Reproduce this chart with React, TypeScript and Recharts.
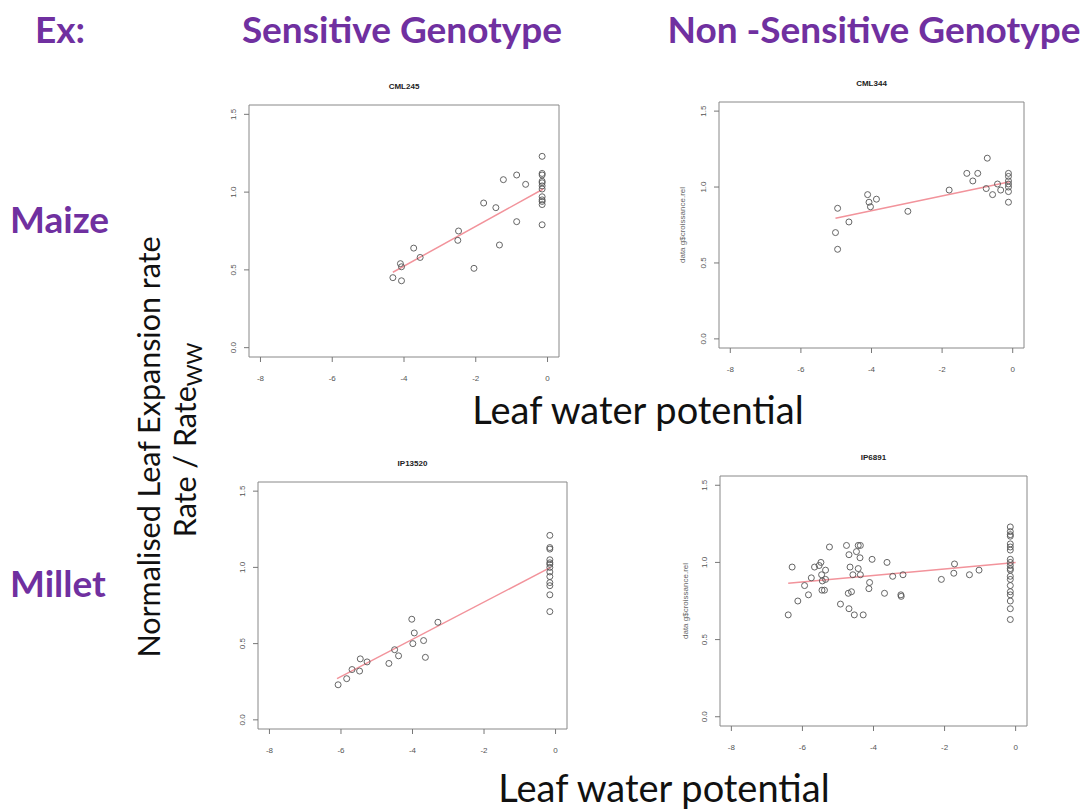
import React from 'react';
import { ScatterChart, Scatter, XAxis, YAxis, ReferenceArea } from 'recharts';

// leaf water potential (x) vs normalised expansion rate (y)
const cml245: [number, number][] = [
  [-4.31, 0.45], [-4.07, 0.43], [-4.1, 0.54], [-4.07, 0.52], [-3.73, 0.64], [-3.55, 0.58],
  [-2.48, 0.75], [-2.5, 0.69], [-2.05, 0.51], [-1.78, 0.93], [-1.44, 0.9], [-1.34, 0.66],
  [-1.23, 1.08], [-0.86, 1.11], [-0.86, 0.81], [-0.61, 1.05],
  [-0.15, 1.23], [-0.15, 1.12], [-0.15, 1.11], [-0.15, 1.07], [-0.15, 1.06], [-0.15, 1.04],
  [-0.15, 1.02], [-0.15, 0.97], [-0.15, 0.95], [-0.15, 0.94], [-0.15, 0.92], [-0.15, 0.79],
];
const cml245Fit: [number, number][] = [[-4.31, 0.485], [-0.12, 1.02]];

const cml344: [number, number][] = [
  [-4.96, 0.86], [-5.02, 0.7], [-4.96, 0.59], [-4.64, 0.77], [-4.11, 0.95], [-4.07, 0.9],
  [-4.03, 0.87], [-3.86, 0.92], [-2.97, 0.84], [-1.8, 0.98], [-1.3, 1.09], [-1.13, 1.04],
  [-0.99, 1.09], [-0.72, 1.19], [-0.75, 0.99], [-0.57, 0.95], [-0.43, 1.02], [-0.34, 0.98],
  [-0.12, 1.09], [-0.12, 1.07], [-0.12, 1.04], [-0.12, 1.02], [-0.12, 1.0], [-0.12, 0.97], [-0.12, 0.9],
];
const cml344Fit: [number, number][] = [[-5.02, 0.795], [-0.08, 1.035]];

const ip13520: [number, number][] = [
  [-6.08, 0.23], [-5.84, 0.27], [-5.69, 0.33], [-5.48, 0.32], [-5.46, 0.4], [-5.27, 0.38],
  [-4.66, 0.37], [-4.5, 0.46], [-4.39, 0.42], [-4.02, 0.66], [-3.99, 0.5], [-3.95, 0.57],
  [-3.69, 0.52], [-3.64, 0.41], [-3.29, 0.64],
  [-0.16, 1.21], [-0.16, 1.13], [-0.16, 1.12], [-0.16, 1.05], [-0.16, 1.03], [-0.16, 1.02],
  [-0.16, 1.0], [-0.16, 0.97], [-0.16, 0.94], [-0.16, 0.9], [-0.16, 0.88], [-0.16, 0.82], [-0.16, 0.71],
];
const ip13520Fit: [number, number][] = [[-6.11, 0.27], [-0.14, 1.0]];

const ip6891: [number, number][] = [
  [-6.4, 0.66], [-6.29, 0.97], [-6.13, 0.75], [-5.94, 0.85], [-5.83, 0.79], [-5.75, 0.9],
  [-5.66, 0.97], [-5.53, 0.98], [-5.48, 1.0], [-5.46, 0.92], [-5.44, 0.88], [-5.45, 0.82],
  [-5.38, 0.82], [-5.35, 0.95], [-5.35, 0.89], [-5.24, 1.1], [-4.93, 0.73], [-4.76, 1.11],
  [-4.71, 0.8], [-4.69, 1.05], [-4.69, 0.7], [-4.66, 0.97], [-4.62, 0.81], [-4.58, 0.92],
  [-4.54, 0.66], [-4.48, 1.07], [-4.43, 1.11], [-4.43, 0.96], [-4.37, 1.11], [-4.38, 1.03],
  [-4.37, 0.92], [-4.29, 0.66], [-4.13, 0.83], [-4.11, 0.87], [-4.04, 1.02], [-3.69, 0.8],
  [-3.62, 1.0], [-3.46, 0.91], [-3.23, 0.79], [-3.22, 0.78], [-3.17, 0.92], [-2.09, 0.89],
  [-1.74, 0.93], [-1.72, 0.99], [-1.3, 0.92], [-1.03, 0.95],
  [-0.15, 1.23], [-0.15, 1.2], [-0.15, 1.18], [-0.15, 1.17], [-0.15, 1.12], [-0.15, 1.1],
  [-0.15, 1.08], [-0.15, 1.02], [-0.15, 1.0], [-0.15, 0.98], [-0.15, 0.96], [-0.15, 0.95],
  [-0.15, 0.91], [-0.15, 0.89], [-0.15, 0.85], [-0.15, 0.81], [-0.15, 0.79], [-0.15, 0.75],
  [-0.15, 0.7], [-0.15, 0.63],
];
const ip6891Fit: [number, number][] = [[-6.4, 0.865], [0, 1.0]];

const xTicks = [-8, -6, -4, -2, 0];
const yTicks = [0, 0.5, 1, 1.5];

const PURPLE = '#7030a0';
const FIT = '#f2939b';
const YW = 40;
const XH = 30;

const toPts = (a: [number, number][]) => a.map(([x, y]) => ({ x, y }));

const Dot = (p: any) => (
  <circle cx={p.cx} cy={p.cy} r={3} fill="none" stroke="#555" strokeWidth={0.9} />
);

const YTick = ({ x, y, payload }: any) => (
  <text x={x} y={y} transform={`rotate(-90 ${x} ${y})`} textAnchor="middle"
    fontSize={8} fill="#555" fontFamily="Liberation Sans">
    {Number(payload.value).toFixed(1)}
  </text>
);

const Panel = ({ box, data, fit, title, ylabel }: any) => {
  return (
    <div style={{ position: 'absolute', left: box.x - YW, top: box.y - 2 }}>
      <ScatterChart width={box.w + YW + 2} height={box.h + XH + 2}
        margin={{ top: 2, right: 2, bottom: 0, left: 0 }}>
        <XAxis type="number" dataKey="x" domain={[-8.32, 0.32]} ticks={xTicks}
          allowDataOverflow height={XH} axisLine={false} tickSize={5} tickMargin={13}
          tickLine={{ stroke: '#777' }} tick={{ fontSize: 8, fill: '#555', fontFamily: 'Liberation Sans' }} />
        <YAxis type="number" dataKey="y" domain={[-0.06, 1.56]} ticks={yTicks}
          allowDataOverflow width={YW} axisLine={false} tickSize={5} tickMargin={8}
          tickLine={{ stroke: '#777' }} tick={<YTick />} />
        <ReferenceArea x1={-8.32} x2={0.32} y1={-0.06} y2={1.56} fill="none"
          stroke="#888" strokeWidth={1} ifOverflow="visible" />
        <Scatter data={toPts(fit)} line={{ stroke: FIT, strokeWidth: 1.5 }}
          shape={() => <g />} isAnimationActive={false} />
        <Scatter data={toPts(data)} shape={<Dot />} isAnimationActive={false} />
      </ScatterChart>
      <div style={{ position: 'absolute', left: YW, top: -21, width: box.w, textAlign: 'center',
        fontFamily: 'Liberation Sans', fontWeight: 'bold', fontSize: 8, color: '#222' }}>{title}</div>
      {ylabel && (
        <svg style={{ position: 'absolute', left: -10, top: 0 }} width={30} height={box.h + 4}>
          <text transform={`translate(${ylabel.dx} ${box.h / 2 + 2}) rotate(-90)`} textAnchor="middle"
            fontSize={8} fill="#666" fontFamily="Liberation Sans">{ylabel.text}</text>
        </svg>
      )}
    </div>
  );
};

export default function App() {
  const font = 'Lato, "Open Sans", sans-serif';
  return (
    <div style={{ position: 'absolute', left: 0, top: 0, width: 1084, height: 810, background: '#fff', overflow: 'hidden' }}>
      <Panel box={{ x: 249, y: 105, w: 310, h: 252 }} data={cml245} fit={cml245Fit} title="CML245" />
      <Panel box={{ x: 719, y: 102, w: 305, h: 246 }} data={cml344} fit={cml344Fit} title="CML344"
        ylabel={{ text: 'data g$croissance.rel', dx: 16 }} />
      <Panel box={{ x: 258, y: 482, w: 309, h: 247 }} data={ip13520} fit={ip13520Fit} title="IP13520" />
      <Panel box={{ x: 720, y: 476, w: 307, h: 250 }} data={ip6891} fit={ip6891Fit} title="IP6891"
        ylabel={{ text: 'data g$croissance.rel', dx: 18 }} />
      <svg width={1084} height={810} style={{ position: 'absolute', left: 0, top: 0, pointerEvents: 'none' }}>
        <g fontFamily={font} fontWeight="bold" fill={PURPLE} fontSize={37}>
          <text x={35} y={43}>Ex:</text>
          <text x={402} y={43} textAnchor="middle">Sensitive Genotype</text>
          <text x={874} y={43} textAnchor="middle">Non -Sensitive Genotype</text>
          <text x={10} y={233}>Maize</text>
          <text x={10} y={597}>Millet</text>
        </g>
        <g fontFamily={font} fill="#111" fontSize={30.5}>
          <text transform="translate(160 447) rotate(-90)" textAnchor="middle">Normalised Leaf Expansion rate</text>
          <text transform="translate(196 440) rotate(-90)" textAnchor="middle">
            Rate / Rate<tspan fontSize={21} dy={6}>WW</tspan>
          </text>
        </g>
        <g fontFamily={font} fill="#111" fontSize={38}>
          <text x={638} y={424} textAnchor="middle">Leaf water potential</text>
          <text x={664} y={802} textAnchor="middle">Leaf water potential</text>
        </g>
      </svg>
    </div>
  );
}
